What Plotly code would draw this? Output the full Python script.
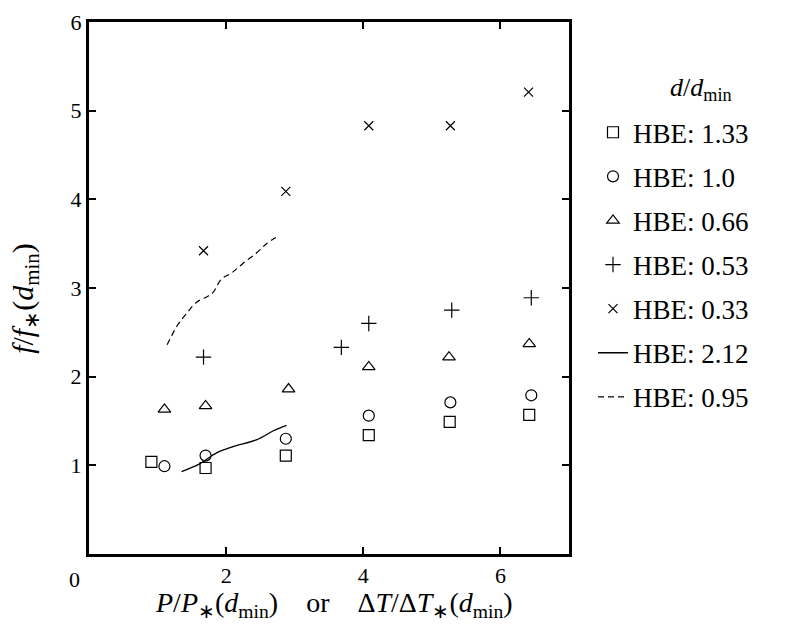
import plotly.graph_objects as go

# ---- data ----
sq_x = [0.91, 1.70, 2.87, 4.08, 5.26, 6.42]
sq_y = [1.04, 0.97, 1.11, 1.34, 1.49, 1.57]

ci_x = [1.10, 1.70, 2.87, 4.08, 5.27, 6.45]
ci_y = [0.99, 1.11, 1.30, 1.56, 1.71, 1.79]

tr_x = [1.10, 1.70, 2.91, 4.08, 5.25, 6.42]
tr_y = [1.63, 1.67, 1.86, 2.11, 2.22, 2.37]

pl_x = [1.67, 3.68, 4.08, 5.29, 6.45]
pl_y = [2.22, 2.33, 2.60, 2.75, 2.89]

xx_x = [1.67, 2.87, 4.08, 5.27, 6.41]
xx_y = [3.42, 4.09, 4.83, 4.83, 5.21]

solid_x = [1.35, 1.62, 1.86, 2.10, 2.45, 2.69, 2.88]
solid_y = [0.93, 1.02, 1.14, 1.21, 1.29, 1.39, 1.45]

dash_x = [1.14, 1.29, 1.42, 1.57, 1.74, 1.81, 1.93, 2.08, 2.25, 2.45, 2.59, 2.75]
dash_y = [2.36, 2.58, 2.71, 2.84, 2.91, 2.95, 3.10, 3.17, 3.28, 3.40, 3.50, 3.58]

names = ["HBE: 1.33", "HBE: 1.0", "HBE: 0.66", "HBE: 0.53", "HBE: 0.33",
         "HBE: 2.12", "HBE: 0.95"]

x_ticks = [2, 4, 6]
y_ticks = [1, 2, 3, 4, 5, 6]

FONT = "Liberation Serif"

fig = go.Figure()
marker_specs = [
    (sq_x, sq_y, "square-open", 11),
    (ci_x, ci_y, "circle-open", 11),
    (tr_x, tr_y, "triangle-up-open", 11),
    (pl_x, pl_y, "cross-thin-open", 11),
    (xx_x, xx_y, "x-thin-open", 9),
]
for i, (xs, ys, sym, sz) in enumerate(marker_specs):
    fig.add_trace(go.Scatter(
        x=xs, y=ys, mode="markers", name=names[i], legendgroup=str(i),
        marker=dict(symbol=sym, size=sz, color="black",
                    line=dict(color="black", width=1.2)),
    ))
fig.add_trace(go.Scatter(
    x=solid_x, y=solid_y, mode="lines", name=names[5], legendgroup="5",
    line=dict(color="black", width=1.3, shape="spline"),
))
fig.add_trace(go.Scatter(
    x=dash_x, y=dash_y, mode="lines", name=names[6], legendgroup="6",
    line=dict(color="black", width=1.2, dash="6px,4px", shape="spline"),
))

axis_common = dict(
    showline=True, linewidth=3, linecolor="black", mirror="ticks",
    ticks="inside", ticklen=7, tickwidth=1.5, tickcolor="black",
    showgrid=False, zeroline=False,
    tickfont=dict(family=FONT, size=22, color="black"),
)

fig.update_layout(
    width=793, height=631,
    margin=dict(l=89, r=224, t=10, b=77),
    paper_bgcolor="white", plot_bgcolor="white",
    font=dict(family=FONT, color="black"),
    showlegend=True,
    xaxis=dict(range=[0, 7], tickvals=x_ticks, ticktext=[str(v) for v in x_ticks],
               **axis_common),
    yaxis=dict(range=[0, 6], tickvals=y_ticks, ticktext=[str(v) for v in y_ticks],
               **axis_common),
    legend=dict(
        x=1.05, y=0.838, xanchor="left", yanchor="top",
        font=dict(family=FONT, size=27, color="black"),
        traceorder="grouped", tracegroupgap=6,
        itemwidth=30, bgcolor="rgba(0,0,0,0)",
    ),
)

# legend heading
fig.add_annotation(
    text="<i>d</i>/<i>d</i><sub>min</sub>",
    xref="paper", yref="paper", x=1.275, y=0.875, xanchor="center", yanchor="middle",
    showarrow=False, font=dict(family=FONT, size=26, color="black"),
)
fig.add_annotation(
    text="<i>P</i>/<i>P</i><sub>∗</sub>(<i>d</i><sub>min</sub>)&nbsp;&nbsp;&nbsp;&nbsp;or&nbsp;&nbsp;&nbsp;&nbsp;Δ<i>T</i>/Δ<i>T</i><sub>∗</sub>(<i>d</i><sub>min</sub>)",
    xref="paper", yref="paper", x=0.51, y=-0.095, xanchor="center", yanchor="middle",
    showarrow=False, font=dict(family=FONT, size=28, color="black"),
)
fig.add_annotation(
    text="<i>f</i>/<i>f</i><sub>∗</sub>(<i>d</i><sub>min</sub>)",
    xref="paper", yref="paper", x=-0.135, y=0.48, xanchor="center", yanchor="middle",
    textangle=-90, showarrow=False, font=dict(family=FONT, size=30, color="black"),
)
fig.add_annotation(
    text="0", xref="paper", yref="paper", x=-0.03, y=-0.02,
    xanchor="center", yanchor="top", showarrow=False,
    font=dict(family=FONT, size=22, color="black"),
)

fig.write_html("out.html")
